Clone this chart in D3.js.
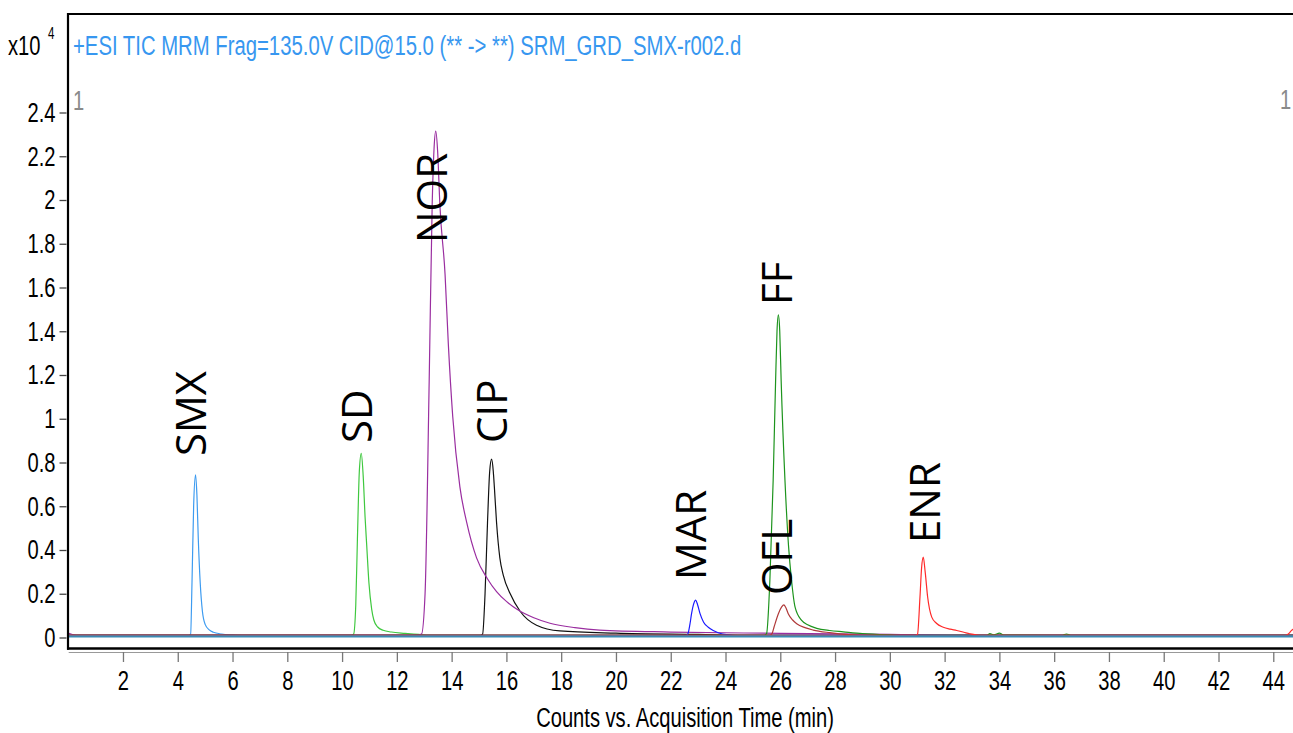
<!DOCTYPE html>
<html>
<head>
<meta charset="utf-8">
<script src="https://cdn.jsdelivr.net/npm/d3@7"></script>
<style>
  html, body { margin: 0; padding: 0; background: #fff; }
  svg { display: block; }
</style>
</head>
<body>
<svg id="chart" width="1293" height="733"></svg>
<script>
// ---- MRM traces: [retention time (min), counts (x10^4)] ----
const smx = [[0,0.01],[4.40,0.01],[4.47,0.015],[4.52,0.25],[4.58,0.60],[4.65,0.743],[4.70,0.65],[4.75,0.45],[4.82,0.25],[4.90,0.12],[5.00,0.06],[5.15,0.035],[5.30,0.024],[5.60,0.016],[6.00,0.012],[6.40,0.01],[44.8,0.01]];
const sd  = [[0,0.01],[10.35,0.01],[10.42,0.015],[10.50,0.15],[10.56,0.45],[10.63,0.76],[10.70,0.842],[10.77,0.74],[10.84,0.55],[10.90,0.42],[10.98,0.25],[11.08,0.13],[11.16,0.08],[11.30,0.048],[11.50,0.033],[11.80,0.025],[12.30,0.019],[12.80,0.014],[13.20,0.01],[44.8,0.01]];
const nor = [[0,0.02],[0.3,0.01],[12.70,0.01],[12.90,0.016],[13.03,0.2],[13.18,1.17],[13.29,1.98],[13.36,2.24],[13.42,2.315],[13.49,2.22],[13.57,1.98],[13.76,1.66],[13.88,1.34],[14.04,1.01],[14.30,0.69],[14.55,0.526],[14.91,0.364],[15.30,0.27],[15.64,0.21],[16.00,0.165],[16.37,0.13],[17.00,0.09],[17.59,0.065],[18.50,0.045],[19.40,0.034],[22.0,0.025],[26.0,0.019],[30.0,0.014],[33.0,0.01],[44.8,0.01]];
const cip = [[0,0.01],[15.05,0.01],[15.13,0.015],[15.22,0.2],[15.31,0.526],[15.39,0.76],[15.46,0.815],[15.52,0.76],[15.56,0.688],[15.64,0.526],[15.76,0.364],[15.89,0.283],[16.13,0.202],[16.50,0.12],[17.10,0.056],[17.95,0.03],[20.0,0.02],[23.0,0.014],[25.0,0.01],[44.8,0.01]];
const mar = [[0,0.01],[22.55,0.01],[22.62,0.015],[22.70,0.06],[22.76,0.109],[22.84,0.155],[22.91,0.171],[22.98,0.15],[23.07,0.109],[23.20,0.07],[23.37,0.047],[23.55,0.032],[23.73,0.022],[24.10,0.012],[24.30,0.01],[44.8,0.01]];
const ff  = [[0,0.01],[25.42,0.01],[25.50,0.018],[25.62,0.262],[25.74,0.72],[25.83,1.18],[25.88,1.40],[25.93,1.475],[25.98,1.40],[26.03,1.18],[26.17,0.72],[26.30,0.42],[26.41,0.262],[26.54,0.139],[26.78,0.078],[27.00,0.058],[27.33,0.042],[27.80,0.032],[28.30,0.026],[29.00,0.018],[30.00,0.012],[30.50,0.01],[33.55,0.01],[33.65,0.018],[33.80,0.012],[34.00,0.02],[34.15,0.011],[36.30,0.01],[36.45,0.016],[36.60,0.01],[44.8,0.01]];
const ofl = [[0,0.01],[25.62,0.01],[25.70,0.018],[25.77,0.047],[25.93,0.109],[26.05,0.14],[26.13,0.149],[26.20,0.137],[26.29,0.109],[26.45,0.08],[26.60,0.063],[26.90,0.045],[27.20,0.034],[27.80,0.022],[28.50,0.013],[29.00,0.01],[44.8,0.01]];
const enr = [[0,0.01],[30.95,0.01],[31.01,0.015],[31.10,0.185],[31.16,0.32],[31.22,0.367],[31.29,0.30],[31.38,0.185],[31.53,0.093],[31.70,0.065],[31.95,0.047],[32.20,0.038],[32.44,0.032],[32.70,0.024],[32.92,0.017],[33.30,0.01],[44.45,0.01],[44.55,0.016],[44.65,0.03],[44.80,0.045]];
const baseline = [[0,0.005],[44.8,0.005]];

// ---- peak annotations: name, retention time, counts level of label foot ----
const peakNames  = ["SMX", "SD", "NOR", "CIP", "MAR", "OFL", "FF", "ENR"];
const peakTimes  = [4.48, 10.53, 13.30, 15.47, 22.73, 25.87, 25.87, 31.27];
const peakLevels = [0.83, 0.889, 1.803, 0.889, 0.263, 0.194, 1.52, 0.432];

// ---- axis ticks ----
const timeTicks  = [2,4,6,8,10,12,14,16,18,20,22,24,26,28,30,32,34,36,38,40,42,44];
const countTicks = [0,0.2,0.4,0.6,0.8,1,1.2,1.4,1.6,1.8,2,2.2,2.4];

const titleText = "+ESI TIC MRM Frag=135.0V CID@15.0 (** -> **) SRM_GRD_SMX-r002.d";
const xTitle = "Counts vs. Acquisition Time (min)";

// ---- layout ----
const svg = d3.select("#chart");
const frameL = 68, frameT = 14, frameB = 648.5, frameR = 1293;
const NARROW = "'Liberation Sans', Arial, sans-serif";
const SQ = 0.72; // horizontal squeeze for the condensed instrument font

const x = d3.scaleLinear().domain([0, 44.72]).range([68.2, 1293]);
const y = d3.scaleLinear().domain([0, 2.4]).range([637.5, 112.5]);

svg.append("defs").append("clipPath").attr("id", "plotclip")
  .append("rect").attr("x", frameL + 1).attr("y", frameT + 1)
  .attr("width", frameR - frameL).attr("height", frameB - frameT - 2);

const line = d3.line().x(d => x(d[0])).y(d => y(d[1])).curve(d3.curveMonotoneX);

const traces = [
  { data: smx, color: "#3d9bf0" },
  { data: sd,  color: "#3fc83f" },
  { data: cip, color: "#111111" },
  { data: nor, color: "#9a2ea0" },
  { data: mar, color: "#1a1aff" },
  { data: ff,  color: "#1d941d" },
  { data: ofl, color: "#b03a3a" },
  { data: enr, color: "#ff2a2a" },
  { data: baseline, color: "#3a8ab3", width: 2.2 }
];

const plot = svg.append("g").attr("clip-path", "url(#plotclip)");
plot.selectAll("path.trace").data(traces).join("path")
  .attr("class", "trace")
  .attr("d", d => line(d.data))
  .attr("fill", "none")
  .attr("stroke", d => d.color)
  .attr("stroke-width", d => d.width || 1.2)
  .attr("stroke-linejoin", "round");

// ---- peak labels (rotated) ----
svg.append("g").selectAll("text").data(peakNames).join("text")
  .attr("transform", (d, i) => `translate(${x(peakTimes[i])},${y(peakLevels[i])}) rotate(-90)`)
  .attr("dy", "0.357em")
  .attr("text-anchor", "start")
  .attr("font-family", "'Open Sans', 'Noto Sans', sans-serif")
  .attr("font-size", 42)
  .attr("fill", "#000")
  .text(d => d);

// ---- frame ----
const frame = svg.append("g").attr("fill", "none");
frame.append("line").attr("x1", frameL).attr("x2", frameR).attr("y1", frameT).attr("y2", frameT)
  .attr("stroke", "#000").attr("stroke-width", 2);
frame.append("line").attr("x1", frameL).attr("x2", frameL).attr("y1", frameT - 1).attr("y2", frameB + 1.2)
  .attr("stroke", "#000").attr("stroke-width", 2.2);
frame.append("line").attr("x1", frameL - 1).attr("x2", frameR).attr("y1", frameB).attr("y2", frameB)
  .attr("stroke", "#000").attr("stroke-width", 2.5);

// ---- y axis ----
const yAxis = svg.append("g").attr("transform", "translate(66.5,0)")
  .call(d3.axisLeft(y).tickValues(countTicks).tickSize(7).tickPadding(4)
    .tickFormat(d3.format("~g")));
yAxis.select(".domain").remove();
yAxis.selectAll(".tick line").attr("stroke", "#444").attr("stroke-width", 1.3);
yAxis.selectAll(".tick text")
  .attr("font-family", NARROW).attr("font-size", 28).attr("fill", "#000")
  .attr("x", -11 / SQ).attr("transform", `scale(${SQ},1)`);

// ---- x axis ----
const xAxis = svg.append("g").attr("transform", "translate(0,652)")
  .call(d3.axisBottom(x).tickValues(timeTicks).tickSize(10).tickPadding(8).tickSizeOuter(0));
xAxis.select(".domain").attr("stroke", "#999").attr("stroke-width", 1);
xAxis.selectAll(".tick line").attr("stroke", "#777").attr("stroke-width", 1.3);
xAxis.selectAll(".tick text")
  .attr("font-family", NARROW).attr("font-size", 28).attr("fill", "#000")
  .attr("transform", `scale(${SQ},1)`);

// ---- texts ----
function squeezed(tx, ty, str, size, color, anchor) {
  return svg.append("text")
    .attr("transform", `translate(${tx},${ty}) scale(${SQ},1)`)
    .attr("font-family", NARROW).attr("font-size", size)
    .attr("fill", color).attr("text-anchor", anchor || "start")
    .text(str);
}
squeezed(73, 55, titleText, 28.2, "#3797f0");
squeezed(685, 727, xTitle, 28, "#000", "middle");
squeezed(8, 55, "x10", 28, "#000");
squeezed(48, 39, "4", 16, "#000");
squeezed(73, 110, "1", 28, "#8a8a8a");
squeezed(1280, 109, "1", 28, "#8a8a8a");
</script>
</body>
</html>
